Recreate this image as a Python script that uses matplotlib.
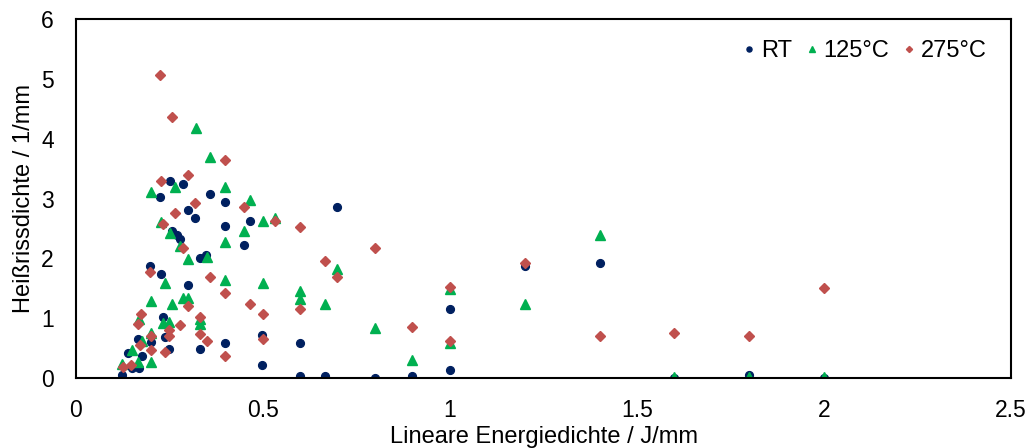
import matplotlib
matplotlib.use("Agg")
import matplotlib.pyplot as plt

plt.rcParams['font.family'] = ['Liberation Sans', 'DejaVu Sans']

# Hot-crack density vs. linear energy density, three substrate temperatures
rt_x = [0.124, 0.140, 0.149, 0.165, 0.169, 0.176, 0.200, 0.198, 0.225, 0.227,
        0.232, 0.238, 0.251, 0.250, 0.258, 0.269, 0.278, 0.285, 0.299, 0.299,
        0.318, 0.332, 0.332, 0.348, 0.359, 0.398, 0.398, 0.398, 0.449, 0.465,
        0.498, 0.498, 0.599, 0.599, 0.666, 0.699, 0.799, 0.899, 1.0, 1.0,
        1.2, 1.4, 1.6, 1.8, 2.0]
rt_y = [0.05, 0.41, 0.16, 0.66, 0.16, 0.36, 0.61, 1.88, 3.03, 1.74,
        1.02, 0.68, 3.30, 0.48, 2.45, 2.39, 2.32, 3.25, 1.55, 2.80,
        2.67, 2.01, 0.49, 2.06, 3.07, 2.94, 2.54, 0.58, 2.22, 2.62,
        0.72, 0.22, 0.58, 0.04, 0.04, 2.85, 0.005, 0.04, 1.15, 0.13,
        1.87, 1.92, 0.0, 0.05, 0.0]

t125_x = [0.122, 0.149, 0.167, 0.169, 0.176, 0.200, 0.200, 0.200, 0.200, 0.226,
          0.232, 0.239, 0.251, 0.250, 0.256, 0.265, 0.278, 0.285, 0.299, 0.299,
          0.320, 0.332, 0.332, 0.349, 0.359, 0.398, 0.398, 0.398, 0.449, 0.465,
          0.499, 0.499, 0.532, 0.599, 0.599, 0.666, 0.699, 0.799, 0.899, 1.0,
          1.0, 1.2, 1.4, 1.6, 1.8, 2.0]
t125_y = [0.23, 0.47, 0.27, 0.99, 0.62, 0.27, 0.75, 1.28, 3.11, 2.61,
          0.92, 1.59, 2.42, 0.93, 1.24, 3.19, 2.21, 1.33, 1.99, 1.33,
          4.17, 0.99, 0.91, 2.03, 3.69, 3.20, 2.28, 1.64, 2.45, 2.98,
          2.62, 1.59, 2.67, 1.46, 1.32, 1.24, 1.82, 0.83, 0.30, 1.48,
          0.59, 1.23, 2.39, 0.02, 0.02, 0.02]

t275_x = [0.127, 0.146, 0.167, 0.171, 0.174, 0.199, 0.200, 0.200, 0.225, 0.227,
          0.233, 0.238, 0.250, 0.249, 0.256, 0.265, 0.279, 0.285, 0.299, 0.299,
          0.318, 0.332, 0.332, 0.349, 0.359, 0.398, 0.398, 0.398, 0.449, 0.465,
          0.499, 0.499, 0.532, 0.599, 0.599, 0.666, 0.699, 0.799, 0.899, 1.0,
          1.0, 1.2, 1.4, 1.6, 1.8, 2.0]
t275_y = [0.18, 0.21, 0.90, 0.55, 1.07, 1.78, 0.70, 0.47, 5.07, 3.30,
          2.57, 0.44, 0.81, 0.70, 4.36, 2.76, 0.89, 2.18, 3.40, 1.21,
          2.93, 1.02, 0.73, 0.62, 1.69, 3.65, 1.42, 0.36, 2.85, 1.24,
          1.07, 0.66, 2.63, 2.53, 1.15, 1.96, 1.69, 2.18, 0.85, 1.52,
          0.62, 1.92, 0.71, 0.75, 0.71, 1.51]

x_ticks = [0, 0.5, 1, 1.5, 2, 2.5]
y_ticks = [0, 1, 2, 3, 4, 5, 6]

fig = plt.figure(figsize=(10.31, 4.48), dpi=100)
ax = fig.add_axes([0.0737, 0.1562, 0.907, 0.8014])

ax.plot(rt_x, rt_y, linestyle='none', marker='o', markersize=5.6,
        color='#002060', label='RT')
ax.plot(t125_x, t125_y, linestyle='none', marker='^', markersize=7.4,
        color='#00B050', label='125°C')
ax.plot(t275_x, t275_y, linestyle='none', marker='D', markersize=4.8,
        color='#C0504D', label='275°C')

ax.set_xlim(0, 2.5)
ax.set_ylim(0, 6)
ax.set_xticks(x_ticks)
ax.set_xticklabels([f'{v:g}' for v in x_ticks])
ax.set_yticks(y_ticks)
ax.tick_params(axis='both', length=0, labelsize=16.5)
ax.tick_params(axis='x', pad=15)
ax.tick_params(axis='y', pad=16)

for sp in ax.spines.values():
    sp.set_linewidth(1.5)
    sp.set_color('black')

ax.set_xlabel('Lineare Energiedichte / J/mm', fontsize=17, labelpad=3)
ax.set_ylabel('Heißrissdichte / 1/mm', fontsize=17, labelpad=4)

ax.legend(loc='upper right', bbox_to_anchor=(0.997, 1.0), ncol=3,
          frameon=False, fontsize=17, markerscale=0.65, handlelength=0.5,
          handletextpad=0.25, columnspacing=0.6)

fig.savefig('out.png', dpi=100)
